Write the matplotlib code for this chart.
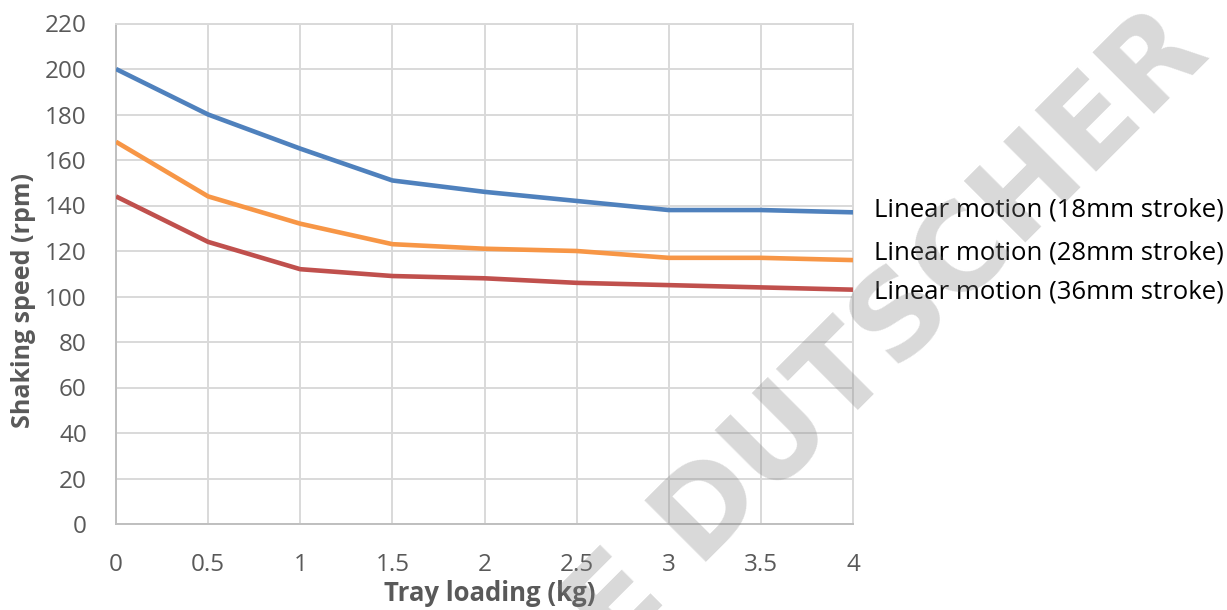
import numpy as np
import matplotlib.pyplot as plt

# tray loading (kg)
loading = [0, 0.5, 1, 1.5, 2, 2.5, 3, 3.5, 4]

# shaking speed (rpm) per stroke length
speed_18mm = [200, 180, 165, 151, 146, 142, 138, 138, 137]
speed_28mm = [168, 144, 132, 123, 121, 120, 117, 117, 116]
speed_36mm = [144, 124, 112, 109, 108, 106, 105, 104, 103]

series_names = ['Linear motion (18mm stroke)',
                'Linear motion (28mm stroke)',
                'Linear motion (36mm stroke)']

plt.rcParams['font.family'] = ['Open Sans', 'DejaVu Sans']

W, H = 1227, 610
fig = plt.figure(figsize=(W / 100, H / 100), dpi=100)
ax = fig.add_axes([116 / W, 1 - 524 / H, (853 - 116) / W, (524 - 23.5) / H])

grey = '#595959'

series = [speed_18mm, speed_28mm, speed_36mm]
colors = ['#4F81BD', '#F79646', '#C0504D']
label_shift = [2, 7, -2]   # pixels, excel nudges the labels apart

for y, c, name, dy in zip(series, colors, series_names, label_shift):
    ax.plot(loading, y, color=c, lw=3.3, solid_capstyle='butt', zorder=3)
    ax.annotate(name, xy=(loading[-1], y[-1]), xytext=(21, dy),
                textcoords='offset pixels', ha='left', va='center',
                fontsize=18.5, color='black', annotation_clip=False)

ax.set_xlim(0, 4)
ax.set_ylim(0, 220)
ax.set_xticks(np.arange(0, 4.01, 0.5))
ax.set_xticklabels(['0', '0.5', '1', '1.5', '2', '2.5', '3', '3.5', '4'])
ax.set_yticks(np.arange(0, 221, 20))
ax.grid(True, color='#D9D9D9', lw=1.4)
ax.set_axisbelow(True)
for side in ['top', 'right']:
    ax.spines[side].set_color('#D9D9D9')
    ax.spines[side].set_linewidth(1.4)
for side in ['left', 'bottom']:
    ax.spines[side].set_color('#BFBFBF')
    ax.spines[side].set_linewidth(1.4)
ax.tick_params(length=0, labelsize=17.5, labelcolor=grey)
ax.tick_params(axis='y', pad=21)
ax.tick_params(axis='x', pad=21)

ax.set_xlabel('Tray loading (kg)', fontsize=18.5, fontweight='bold', color=grey)
ax.set_ylabel('Shaking speed (rpm)', fontsize=18, fontweight='bold', color=grey)
ax.xaxis.set_label_coords(0.507, -0.112)
ax.yaxis.set_label_coords(-0.108, 0.446)

# watermark over the chart
fig.text(1212 / W, 1 - 56 / H, 'E DUTSCHER', rotation=45, rotation_mode='anchor',
         ha='right', va='baseline', fontsize=86, fontweight='bold',
         family='DejaVu Sans', color='#808080', alpha=0.3, zorder=10)

fig.savefig('out.png', dpi=100)
